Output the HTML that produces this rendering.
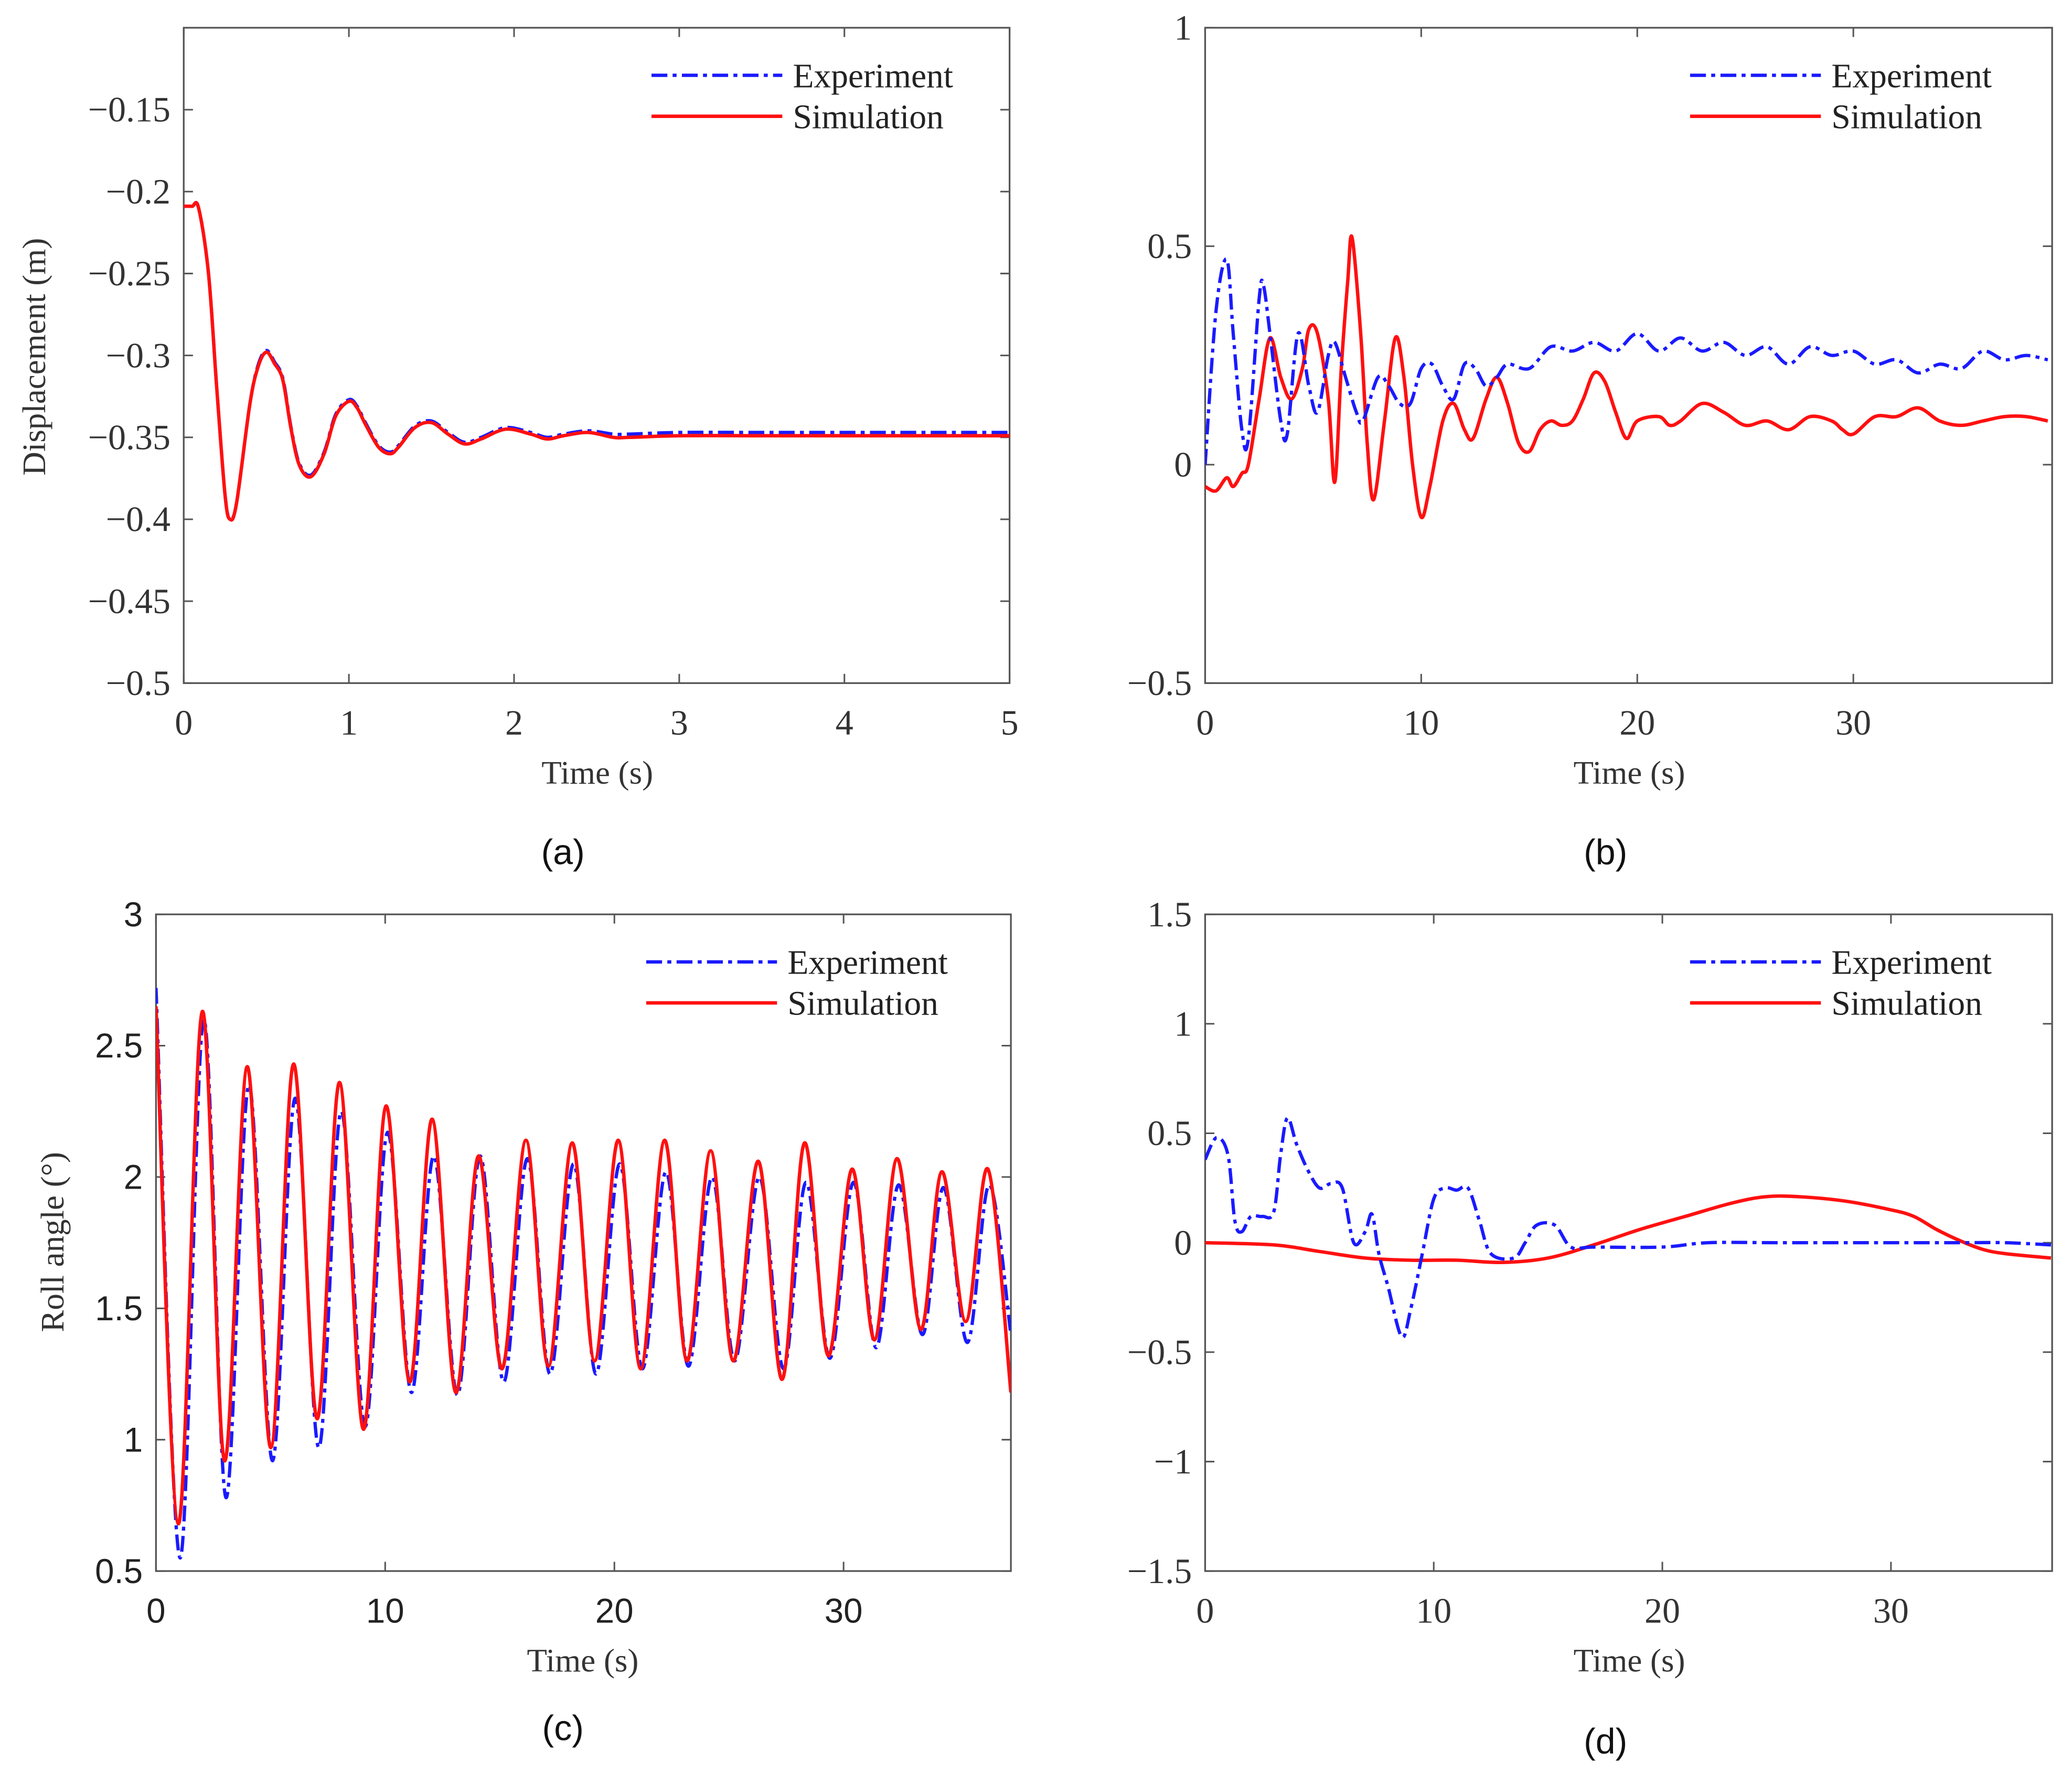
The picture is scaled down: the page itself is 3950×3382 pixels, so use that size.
<!DOCTYPE html>
<html><head><meta charset="utf-8"><style>
html,body{margin:0;padding:0;background:#fff;}
svg{display:block;}
.tk{font-family:"Liberation Serif",serif;font-size:27px;fill:#333;}
.tks{font-family:"Liberation Sans",sans-serif;font-size:26px;fill:#222;}
.lab{font-family:"Liberation Serif",serif;font-size:25px;fill:#333;}
.cap{font-family:"Liberation Sans",sans-serif;font-size:27px;fill:#111;}
.leg{font-family:"Liberation Serif",serif;font-size:26px;fill:#222;}
</style></head><body>
<svg id="fig" width="3950" height="3382" viewBox="0 0 1568 1342.6" xmlns="http://www.w3.org/2000/svg">
<rect width="1568" height="1342.6" fill="#fff"/>
</svg>
<script>
// ---- Panel (a) data ----
const aSimT=[0,0.05,0.09,0.15,0.2,0.25,0.28,0.32,0.4,0.45,0.5,0.55,0.6,0.65,0.7,0.77,0.85,0.92,1.0,1.05,1.1,1.18,1.25,1.3,1.4,1.5,1.6,1.7,1.8,1.95,2.1,2.2,2.3,2.45,2.6,2.7,3.0,3.5,4.0,4.5,5.0];
const aSimV=[-0.209,-0.209,-0.21,-0.25,-0.32,-0.385,-0.4,-0.39,-0.33,-0.307,-0.298,-0.305,-0.315,-0.345,-0.367,-0.374,-0.36,-0.337,-0.328,-0.332,-0.342,-0.356,-0.36,-0.356,-0.344,-0.341,-0.348,-0.354,-0.351,-0.345,-0.348,-0.351,-0.349,-0.347,-0.35,-0.35,-0.349,-0.349,-0.349,-0.349,-0.349];
const aExpT=[0,0.05,0.09,0.15,0.2,0.25,0.28,0.32,0.4,0.45,0.5,0.55,0.6,0.65,0.7,0.77,0.85,0.92,1.0,1.05,1.1,1.18,1.25,1.3,1.4,1.5,1.6,1.7,1.8,1.95,2.1,2.2,2.3,2.45,2.6,2.7,3.0,3.5,4.0,4.5,5.0];
const aExpV=[-0.209,-0.209,-0.21,-0.25,-0.32,-0.385,-0.399,-0.39,-0.33,-0.306,-0.297,-0.304,-0.314,-0.344,-0.366,-0.373,-0.359,-0.336,-0.327,-0.331,-0.341,-0.355,-0.359,-0.355,-0.343,-0.34,-0.347,-0.353,-0.35,-0.344,-0.347,-0.35,-0.348,-0.346,-0.348,-0.348,-0.347,-0.347,-0.347,-0.347,-0.347];
const aXTicks=[0,1,2,3,4,5];
const aYTicks=[-0.5,-0.45,-0.4,-0.35,-0.3,-0.25,-0.2,-0.15];
const aYLabels=["\u22120.5","\u22120.45","\u22120.4","\u22120.35","\u22120.3","\u22120.25","\u22120.2","\u22120.15"];
// ---- Panel (b) data ----
const bExpT=[0,0.5,1,1.3,1.7,2,2.5,2.7,3,3.5,3.8,4.3,4.8,5.2,5.7,6,6.5,7,7.3,8,8.5,9,9.5,10,10.5,11,11.5,12,12.5,13,13.5,14,15,16,17,18,19,20,21,22,23,24,25,26,27,28,29,30,31,32,33,34,35,36,37,38,39];
const bExpV=[0,0.35,0.47,0.3,0.08,0.06,0.38,0.41,0.3,0.1,0.07,0.3,0.18,0.12,0.25,0.28,0.2,0.12,0.1,0.2,0.18,0.14,0.14,0.22,0.23,0.18,0.15,0.23,0.22,0.18,0.2,0.23,0.22,0.27,0.26,0.28,0.26,0.3,0.26,0.29,0.26,0.28,0.25,0.27,0.23,0.27,0.25,0.26,0.23,0.24,0.21,0.23,0.22,0.26,0.24,0.25,0.24];
const bSimT=[0,0.5,1,1.3,1.7,2,2.5,3,3.5,4,4.5,4.8,5.2,5.7,6,6.3,6.6,6.8,7.2,7.5,7.8,8.3,8.8,9.2,9.6,10,10.4,11,11.5,12,12.4,13,13.5,14,14.5,15,15.5,16,16.5,17,17.5,18,18.5,19,19.5,20,21,21.5,22,23,24,25,26,27,28,29,29.5,30,31,32,33,34,35,36,37,38,39];
const bSimV=[-0.05,-0.06,-0.03,-0.05,-0.02,0,0.15,0.29,0.2,0.15,0.22,0.31,0.3,0.15,-0.04,0.22,0.42,0.52,0.3,0.05,-0.08,0.1,0.29,0.2,0,-0.12,-0.05,0.1,0.14,0.08,0.06,0.15,0.2,0.14,0.05,0.03,0.08,0.1,0.09,0.1,0.15,0.21,0.19,0.12,0.06,0.1,0.11,0.09,0.1,0.14,0.12,0.09,0.1,0.08,0.11,0.1,0.08,0.07,0.11,0.11,0.13,0.1,0.09,0.1,0.11,0.11,0.1];
const bXTicks=[0,10,20,30];
const bYTicks=[-0.5,0,0.5,1];
const bYLabels=["\u22120.5","0","0.5","1"];
// ---- Panel (c) data: alternating peak/trough extremes ----
const cSimT=[0,0.98,2.02,2.99,3.98,5.01,6.0,7.03,8.01,9.05,10.03,11.07,12.05,13.08,14.07,15.1,16.14,17.12,18.16,19.14,20.17,21.15,22.19,23.17,24.2,25.19,26.28,27.32,28.3,29.33,30.37,31.35,32.33,33.37,34.29,35.33,36.3,37.3];
const cSimV=[2.65,0.68,2.63,0.92,2.42,0.97,2.43,1.08,2.36,1.04,2.27,1.22,2.22,1.18,2.08,1.27,2.14,1.28,2.13,1.3,2.14,1.27,2.14,1.3,2.1,1.3,2.06,1.23,2.13,1.32,2.03,1.38,2.07,1.42,2.02,1.45,2.03,1.18];
const cExpT=[0,1.05,2.08,3.05,4.05,5.08,6.07,7.1,8.08,9.12,10.1,11.14,12.12,13.15,14.14,15.17,16.2,17.19,18.22,19.2,20.23,21.22,22.25,23.23,24.26,25.25,26.33,27.38,28.36,29.4,30.43,31.42,32.4,33.44,34.36,35.4,36.35,37.3];
const cExpV=[2.72,0.55,2.6,0.78,2.35,0.92,2.3,0.97,2.25,1.05,2.17,1.18,2.08,1.17,2.08,1.22,2.07,1.25,2.05,1.25,2.05,1.27,2.02,1.28,2.0,1.3,2.0,1.27,1.98,1.31,1.98,1.35,1.97,1.4,1.96,1.37,1.97,1.4];
const cXTicks=[0,10,20,30];
const cYTicks=[0.5,1,1.5,2,2.5,3];
const cYLabels=["0.5","1","1.5","2","2.5","3"];
// ---- Panel (d) data ----
const dExpT=[0,0.5,1,1.3,1.6,2,2.5,3,3.3,3.6,4,4.5,5,5.5,6,6.5,7,7.3,7.6,8,8.6,9,9.5,10,10.5,11,11.5,12,12.5,13.5,14,14.5,15.3,16,17,20,22,25,28,30,33,35,37];
const dExpV=[0.38,0.48,0.4,0.1,0.05,0.12,0.12,0.14,0.4,0.57,0.45,0.33,0.25,0.27,0.25,0,0.05,0.13,-0.05,-0.2,-0.43,-0.3,-0.05,0.2,0.25,0.24,0.25,0.1,-0.05,-0.07,0,0.08,0.08,-0.02,-0.02,-0.02,0,0,0,0,0,0,-0.01];
const dSimT=[0,3,5,7,9,11,13,15,17,19,21,23,24.5,26,28,30,31,32,33,34,35,37];
const dSimV=[0,-0.01,-0.04,-0.07,-0.08,-0.08,-0.09,-0.07,-0.01,0.06,0.12,0.18,0.21,0.21,0.19,0.15,0.12,0.06,0.01,-0.03,-0.05,-0.07];
const dXTicks=[0,10,20,30];
const dYTicks=[-1.5,-1,-0.5,0,0.5,1,1.5];
const dYLabels=["\u22121.5","\u22121","\u22120.5","0","0.5","1","1.5"];

const NS="http://www.w3.org/2000/svg";
const fig=document.getElementById('fig');
const DASH='12 4 3 4';
function mk(tag,attrs,parent){const e=document.createElementNS(NS,tag);for(const k in attrs)e.setAttribute(k,attrs[k]);(parent||fig).appendChild(e);return e;}
function smooth(pts){let d="M"+pts[0][0].toFixed(2)+","+pts[0][1].toFixed(2);
 for(let i=0;i<pts.length-1;i++){const p0=pts[i-1]||pts[i],p1=pts[i],p2=pts[i+1],p3=pts[i+2]||p2;
  const c1x=p1[0]+(p2[0]-p0[0])/6,c1y=p1[1]+(p2[1]-p0[1])/6,c2x=p2[0]-(p3[0]-p1[0])/6,c2y=p2[1]-(p3[1]-p1[1])/6;
  d+=" C"+c1x.toFixed(2)+","+c1y.toFixed(2)+" "+c2x.toFixed(2)+","+c2y.toFixed(2)+" "+p2[0].toFixed(2)+","+p2[1].toFixed(2);}
 return d;}
function panel(o){
 const g=mk('g',{});
 
 
 const X=v=>o.x0+(v-o.xmin)/(o.xmax-o.xmin)*(o.x1-o.x0);
 const Y=v=>o.y1-(v-o.ymin)/(o.ymax-o.ymin)*(o.y1-o.y0);
 const clip=mk('clipPath',{id:o.name+'-clip'},g);
 mk('rect',{x:o.x0,y:o.y0,width:o.x1-o.x0,height:o.y1-o.y0},clip);
 const frame=mk('rect',{x:o.x0,y:o.y0,width:o.x1-o.x0,height:o.y1-o.y0,fill:'none',stroke:'#555','stroke-width':1.3},g);
 
 
 o.xt.forEach(v=>{const x=X(v);
  mk('line',{x1:x,y1:o.y1,x2:x,y2:o.y1-7,stroke:'#555','stroke-width':1.2},g);
  mk('line',{x1:x,y1:o.y0,x2:x,y2:o.y0+7,stroke:'#555','stroke-width':1.2},g);
  const t=mk('text',{x:x,y:o.y1+39,'text-anchor':'middle',class:o.tickClass},g);t.textContent=String(v);
  
  });
 o.yt.forEach((v,i)=>{const y=Y(v);
  mk('line',{x1:o.x0,y1:y,x2:o.x0+7,y2:y,stroke:'#555','stroke-width':1.2},g);
  mk('line',{x1:o.x1,y1:y,x2:o.x1-7,y2:y,stroke:'#555','stroke-width':1.2},g);
  const t=mk('text',{x:o.x0-10,y:y+9,'text-anchor':'end',class:o.tickClass},g);t.textContent=o.yl[i];
  
  });
 const lines=mk('g',{'clip-path':'url(#'+o.name+'-clip)'},g);
 const pe=o.expT.map((t,i)=>[X(t),Y(o.expV[i])]);
 const ps=o.simT.map((t,i)=>[X(t),Y(o.simV[i])]);
 const ls=mk('path',{d:smooth(ps),fill:'none',stroke:'#ff1010','stroke-width':2.6,'stroke-linejoin':'round'},lines);
 
 
 const le=mk('path',{d:smooth(pe),fill:'none',stroke:'#1a1aff','stroke-width':2.5,'stroke-dasharray':DASH},lines);
 
 
 if(o.name==='panel-a'||o.name==='panel-c'){lines.appendChild(ls);}
 const lg=mk('g',{},g);
 
 
 mk('line',{x1:o.lx,y1:o.ly,x2:o.lx+99,y2:o.ly,stroke:'#1a1aff','stroke-width':2.5,'stroke-dasharray':DASH},lg);
 mk('line',{x1:o.lx,y1:o.ly+31,x2:o.lx+99,y2:o.ly+31,stroke:'#ff1010','stroke-width':2.6},lg);
 const t1=mk('text',{x:o.lx+107,y:o.ly+9,class:'leg'},lg);t1.textContent='Experiment';
 
 
 const t2=mk('text',{x:o.lx+107,y:o.ly+40,class:'leg'},lg);t2.textContent='Simulation';
 
 
 const xl=mk('text',{x:o.xlx,y:o.xly,'text-anchor':'middle',class:'lab'},g);xl.textContent='Time (s)';
 
 
 if(o.ylab){const yl=mk('text',{x:0,y:0,'text-anchor':'middle',class:'lab',transform:'translate('+o.ylx+','+o.yly+') rotate(-90)'},g);yl.textContent=o.ylab;
  
  }
 const c=mk('text',{x:o.cx,y:o.cy,'text-anchor':'middle',class:'cap'},g);c.textContent=o.cap;
 
 
}
panel({name:'panel-a',x0:139,x1:764,y0:21,y1:517,xmin:0,xmax:5,ymin:-0.5,ymax:-0.1,xt:aXTicks,yt:aYTicks,yl:aYLabels,tickClass:'tk',
 expT:aExpT,expV:aExpV,simT:aSimT,simV:aSimV,lx:493,ly:57,xlx:452,xly:593,ylab:'Displacement (m)',ylx:34,yly:270,cap:'(a)',cx:426,cy:654});
panel({name:'panel-b',x0:912,x1:1553,y0:21,y1:517,xmin:0,xmax:39.2,ymin:-0.5,ymax:1,xt:bXTicks,yt:bYTicks,yl:bYLabels,tickClass:'tk',
 expT:bExpT,expV:bExpV,simT:bSimT,simV:bSimV,lx:1279,ly:57,xlx:1233,xly:593,ylab:null,cap:'(b)',cx:1215,cy:654});
panel({name:'panel-c',x0:118,x1:765,y0:692,y1:1189,xmin:0,xmax:37.3,ymin:0.5,ymax:3,xt:cXTicks,yt:cYTicks,yl:cYLabels,tickClass:'tks',
 expT:cExpT,expV:cExpV,simT:cSimT,simV:cSimV,lx:489,ly:728,xlx:441,xly:1265,ylab:'Roll angle (\u00b0)',ylx:48,yly:940,cap:'(c)',cx:426,cy:1317});
panel({name:'panel-d',x0:912,x1:1553,y0:692,y1:1189,xmin:0,xmax:37.05,ymin:-1.5,ymax:1.5,xt:dXTicks,yt:dYTicks,yl:dYLabels,tickClass:'tk',
 expT:dExpT,expV:dExpV,simT:dSimT,simV:dSimV,lx:1279,ly:728,xlx:1233,xly:1265,ylab:null,cap:'(d)',cx:1215,cy:1327});
</script>
</body></html>
